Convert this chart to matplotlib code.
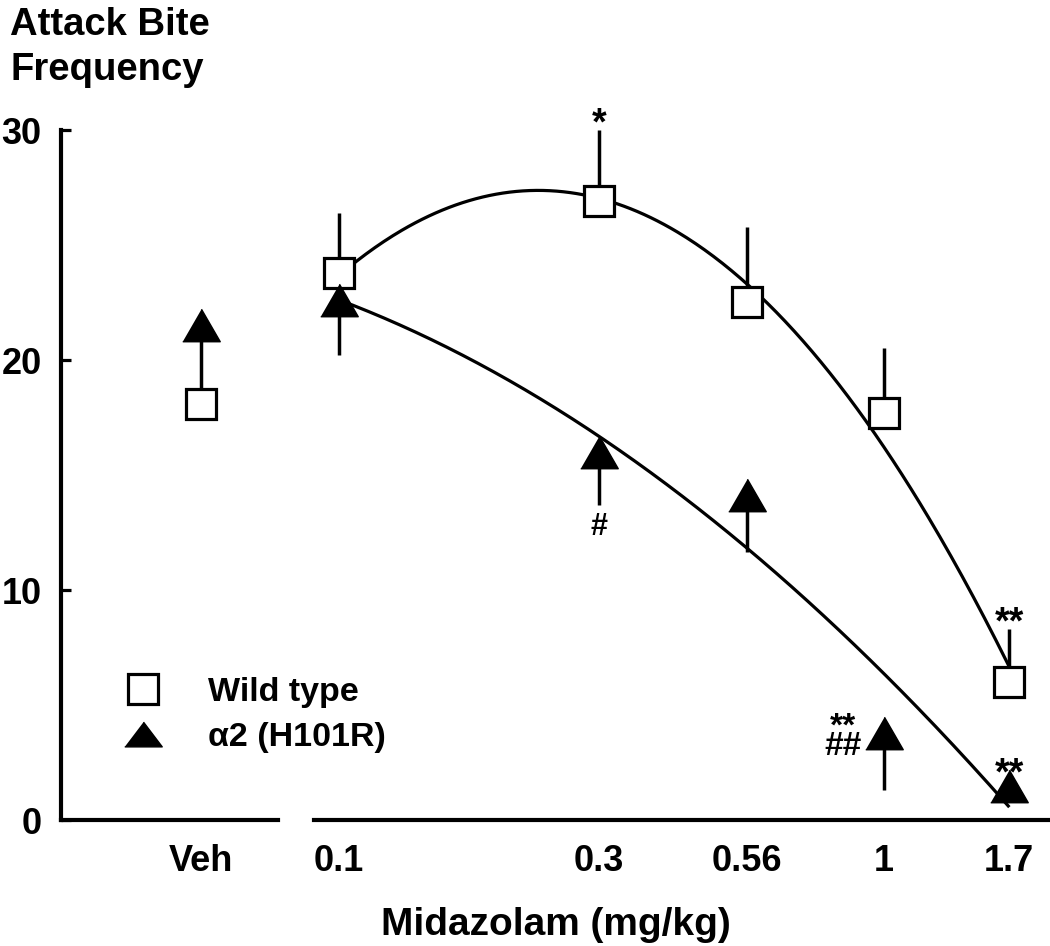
import numpy as np
import matplotlib
matplotlib.use("Agg")
import matplotlib.pyplot as plt
from matplotlib.lines import Line2D
from matplotlib.ticker import NullLocator

# ---------------- data ----------------
doses = [0.1, 0.3, 0.56, 1.0, 1.7]
dose_labels = ["0.1", "0.3", "0.56", "1", "1.7"]
veh_label = "Veh"

wt_veh = 18.1
a2_veh = 21.5
a2_veh_err = 3.0

wt_mean = [23.8, 26.9, 22.5, 17.7, 6.0]
wt_err = [2.6, 3.1, 3.3, 2.8, 2.3]
a2_mean = [22.6, 16.0, 14.15, 3.8, 1.5]
a2_err = [2.4, 2.3, 2.5, 2.5, 0.0]

wt_marks = ["", "*", "", "", "**"]
a2_marks = ["", "#", "", "**\n##", "**"]

series_names = ["Wild type", "\u03b12 (H101R)"]
y_ticks = [0, 10, 20, 30]
x_title = "Midazolam (mg/kg)"
y_title_lines = ["Attack Bite", "Frequency"]

# ---------------- style ----------------
plt.rcParams["font.family"] = ["Liberation Sans", "DejaVu Sans"]
plt.rcParams["font.weight"] = "bold"
W, H = 1050, 946
fig = plt.figure(figsize=(W / 100, H / 100), dpi=100)

LW_AX = 3.0
LW_LINE = 2.3
LW_ERR = 2.5
STAR_FS = 27
HASH_FS = 22
tri = [(-1, -0.866), (1, -0.866), (0, 0.866)]
tri_leg = [(-1, -0.66), (1, -0.66), (0, 0.66)]
sq_kw = dict(marker="s", ms=21, mfc="white", mec="black", mew=2.3, ls="none")
tri_kw = dict(marker=tri, ms=27, mfc="black", mec="black", mew=1, ls="none")

y0 = 1 - 820 / H
hh = 690 / H
ax_l = fig.add_axes([61 / W, y0, (278 - 61) / W, hh])
ax_r = fig.add_axes([314 / W, y0, (1048 - 314) / W, hh])

for ax in (ax_l, ax_r):
    ax.set_ylim(0, 30)
    for s in ("top", "right"):
        ax.spines[s].set_visible(False)
    ax.spines["bottom"].set_linewidth(LW_AX)
    ax.spines["left"].set_linewidth(LW_AX)
    ax.patch.set_alpha(0)
ax_r.spines["left"].set_visible(False)
ax_r.set_yticks([])

# left axis (vehicle)
ax_l.set_xlim(-0.645, 0.355)
ax_l.set_xticks([0])
ax_l.set_xticklabels([veh_label])
ax_l.set_yticks(y_ticks)
ax_l.tick_params(axis="y", direction="in", length=7.5, width=2.3, pad=14, labelsize=26)
ax_l.tick_params(axis="x", length=0, pad=17, labelsize=26)

ax_l.errorbar([0], [a2_veh], yerr=[[a2_veh_err], [0]], fmt="none", ecolor="black",
              elinewidth=LW_ERR, capsize=0, zorder=2, clip_on=False)
ax_l.plot([0], [wt_veh], zorder=3, clip_on=False, **sq_kw)
ax_l.plot([0], [a2_veh], zorder=4, clip_on=False, **tri_kw)

# right axis (doses, log scale)
ax_r.set_xscale("log")
ax_r.set_xlim(0.0899, 2.002)
ax_r.set_xticks(doses)
ax_r.set_xticklabels(dose_labels)
ax_r.xaxis.set_minor_locator(NullLocator())
ax_r.tick_params(axis="x", length=0, pad=17, labelsize=26)

u = np.log10(doses)
uu = np.linspace(u[0], u[-1], 300)
for mean in (wt_mean, a2_mean):
    c = np.polyfit(u, mean, 2)
    ax_r.plot(10 ** uu, np.polyval(c, uu), color="black", lw=LW_LINE, zorder=1,
              solid_capstyle="butt")

ax_r.errorbar(doses, wt_mean, yerr=[np.zeros(5), wt_err], fmt="none", ecolor="black",
              elinewidth=LW_ERR, capsize=0, zorder=2, clip_on=False)
ax_r.errorbar(doses, a2_mean, yerr=[a2_err, np.zeros(5)], fmt="none", ecolor="black",
              elinewidth=LW_ERR, capsize=0, zorder=2, clip_on=False)
ax_r.plot(doses, wt_mean, zorder=3, clip_on=False, **sq_kw)
ax_r.plot(doses, a2_mean, zorder=4, clip_on=False, **tri_kw)

# significance marks
def mark(ax, text, xy, dx, dy, fs, **kw):
    ax.annotate(text, xy=xy, xytext=(dx, dy), textcoords="offset points",
                ha="center", va="baseline", fontsize=fs, annotation_clip=False, **kw)

for d, m, e, t in zip(doses, wt_mean, wt_err, wt_marks):
    if t:
        mark(ax_r, t, (d, m + e), 0, -3, STAR_FS)
for d, m, e, t in zip(doses, a2_mean, a2_err, a2_marks):
    if not t:
        continue
    if t == "#":
        mark(ax_r, t, (d, m - e), 0, -22, HASH_FS)
    elif "\n" in t:
        mark(ax_r, t, (d, m), -29.5, -16, 24, linespacing=0.5, multialignment="center")
    else:
        mark(ax_r, t, (d, m), 0, 1, STAR_FS)

# titles
fig.text(10 / W, 1 - 35 / H, y_title_lines[0], ha="left", va="baseline", fontsize=27.5)
fig.text(10 / W, 1 - 80 / H, y_title_lines[1], ha="left", va="baseline", fontsize=27.5)
fig.text(556 / W, 1 - 935 / H, x_title, ha="center", va="baseline", fontsize=28)

# legend
handles = [Line2D([], [], **sq_kw),
           Line2D([], [], **dict(tri_kw, marker=tri_leg))]
fig.legend(handles, series_names, loc="upper left", bbox_to_anchor=(123 / W, 1 - 677 / H),
           frameon=False, fontsize=24.5, handlelength=1.2, handletextpad=1.3,
           labelspacing=0.4, borderaxespad=0, borderpad=0)

fig.savefig("out.png", dpi=100)
